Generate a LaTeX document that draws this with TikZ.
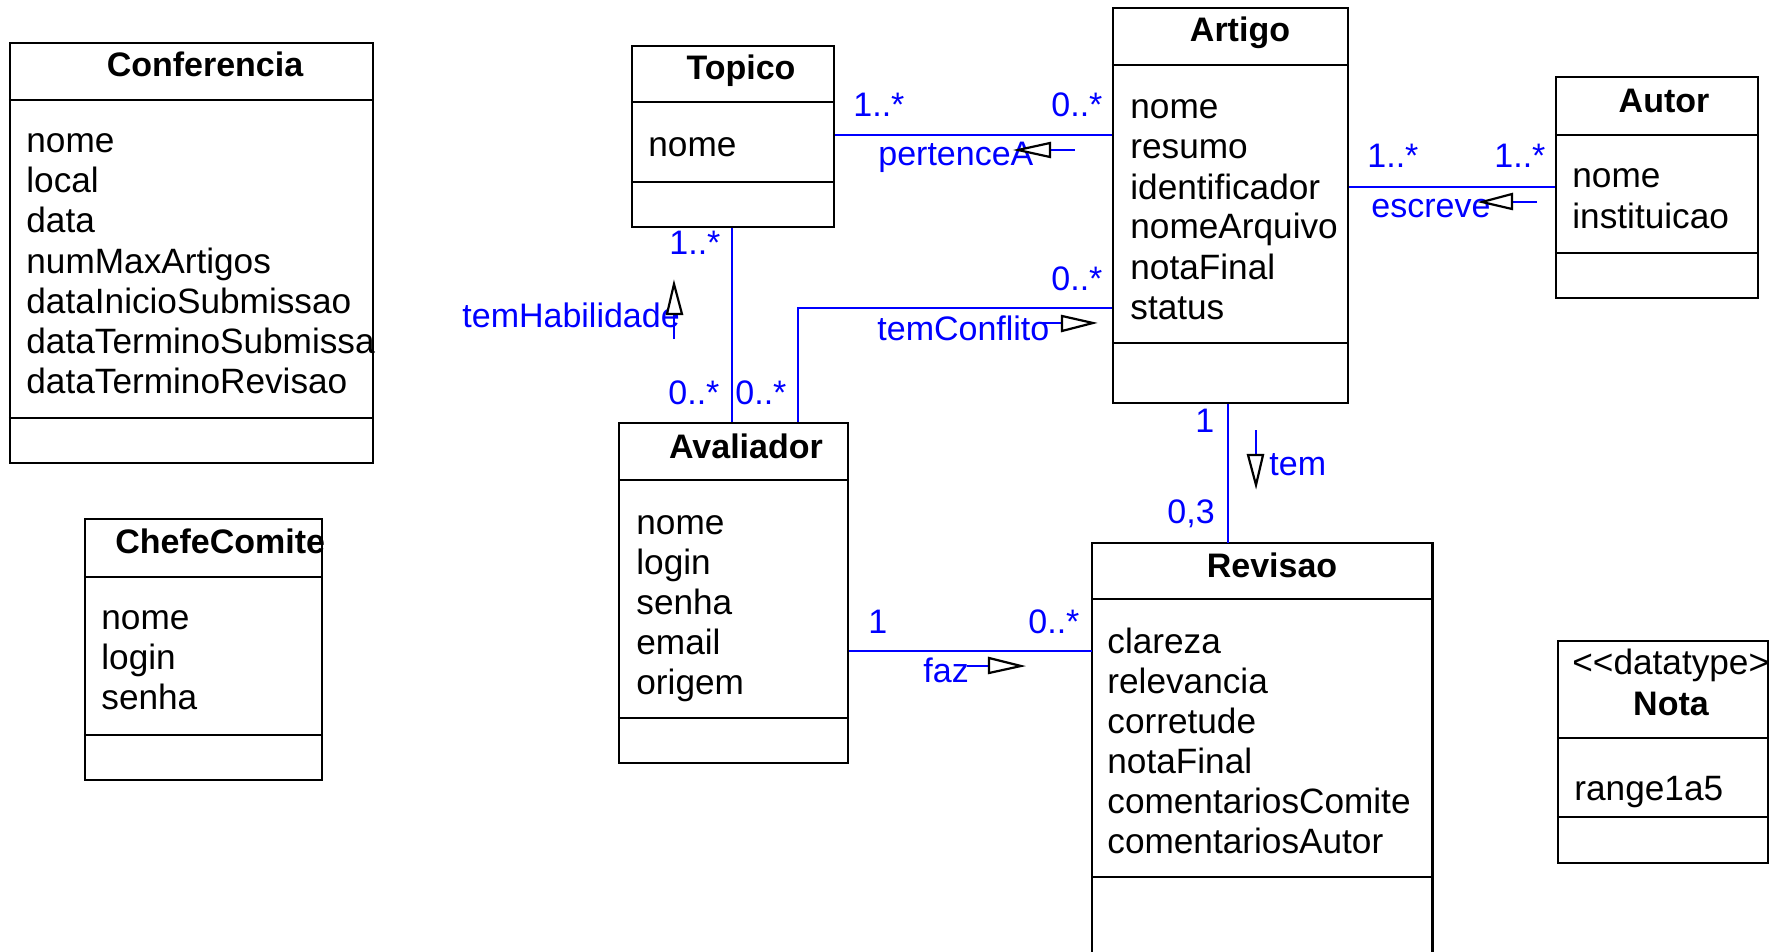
\documentclass[tikz,border=0pt]{standalone}
\usepackage{fontspec}
\setmainfont{Liberation Sans}
\usetikzlibrary{fit}
\definecolor{umlblue}{RGB}{0,0,255}
\tikzset{
  box/.style={draw=black, line width=1.1pt, inner sep=0pt},
  frame/.style={inner sep=0pt},
  divider/.style={draw=black, line width=1.1pt},
  attr/.style={anchor=base west, inner sep=0pt, font=\fontsize{17.6}{20}\selectfont},
  ttl/.style={anchor=base, inner sep=0pt, font=\bfseries\fontsize{17}{20}\selectfont},
  ttlw/.style={anchor=base west, inner sep=0pt, font=\bfseries\fontsize{17}{20}\selectfont},
  lbl/.style={anchor=base west, inner sep=0pt, text=umlblue, font=\fontsize{17}{20}\selectfont},
  stereo/.style={anchor=base west, inner sep=0pt, font=\fontsize{17.6}{20}\selectfont},
  assoc/.style={draw=umlblue, line width=1.1pt},
  stem/.style={draw=umlblue, line width=1.1pt},
  tri/.style={draw=black, fill=white, line width=1.1pt, line join=miter},
}
\begin{document}
\begin{tikzpicture}[x=0.5pt,y=-0.5pt]
\useasboundingbox (0,0) rectangle (1776,952);
\fill[white] (0,0) rectangle (1776,952);

% ---------- Conferencia
\node[box, fit={(10,43) (373,463)}] (conf) {};
\draw[divider] (conf.west |- 0,100) -- (conf.east |- 0,100);
\draw[divider] (conf.west |- 0,418) -- (conf.east |- 0,418);
\node[ttl] (conf-t) at (205,77) {Conferencia};
\begin{scope}
\clip (conf.south west) rectangle (conf.north east);
\foreach \t [count=\i] in {nome,local,data,numMaxArtigos,dataInicioSubmissao,dataTerminoSubmissao,dataTerminoRevisao}
  \node[attr] (conf-a\i) at (26,{113+40*\i}) {\t};
\end{scope}

% ---------- ChefeComite
\node[box, fit={(85,519) (322,780)}] (chefe) {};
\draw[divider] (chefe.west |- 0,577) -- (chefe.east |- 0,577);
\draw[divider] (chefe.west |- 0,735) -- (chefe.east |- 0,735);
\begin{scope}
\clip (chefe.south west) rectangle (chefe.north east);
\node[ttlw] (chefe-t) at (115,553) {ChefeComite};
\end{scope}
\foreach \t [count=\i] in {nome,login,senha}
  \node[attr] (chefe-a\i) at (101,{589+40*\i}) {\t};

% ---------- Topico
\node[box, fit={(632,46) (834,227)}] (topico) {};
\draw[divider] (topico.west |- 0,102) -- (topico.east |- 0,102);
\draw[divider] (topico.west |- 0,182) -- (topico.east |- 0,182);
\node[ttl] (topico-t) at (741,80) {Topico};
\node[attr] (topico-a1) at (648,157) {nome};

% ---------- Artigo
\node[box, fit={(1113,8) (1348,403)}] (artigo) {};
\draw[divider] (artigo.west |- 0,65) -- (artigo.east |- 0,65);
\draw[divider] (artigo.west |- 0,343) -- (artigo.east |- 0,343);
\node[ttl] (artigo-t) at (1240,42) {Artigo};
\foreach \t [count=\i] in {nome,resumo,identificador,nomeArquivo,notaFinal,status}
  \node[attr] (artigo-a\i) at (1130,{79+40*\i}) {\t};

% ---------- Autor
\node[box, fit={(1556,77) (1758,298)}] (autor) {};
\draw[divider] (autor.west |- 0,135) -- (autor.east |- 0,135);
\draw[divider] (autor.west |- 0,253) -- (autor.east |- 0,253);
\node[ttl] (autor-t) at (1664,113) {Autor};
\foreach \t [count=\i] in {nome,instituicao}
  \node[attr] (autor-a\i) at (1572,{148+40*\i}) {\t};

% ---------- Avaliador
\node[box, fit={(619,423) (848,763)}] (aval) {};
\draw[divider] (aval.west |- 0,480) -- (aval.east |- 0,480);
\draw[divider] (aval.west |- 0,718) -- (aval.east |- 0,718);
\node[ttl] (aval-t) at (746,458) {Avaliador};
\foreach \t [count=\i] in {nome,login,senha,email,origem}
  \node[attr] (aval-a\i) at (636,{494+40*\i}) {\t};

% ---------- Revisao
\node[frame, fit={(1092,543) (1432,952)}] (rev) {};
\draw[divider] (rev.south west) -- (rev.north west) -- (rev.north east) -- (rev.south east);
\draw[divider] (rev.west |- 0,599) -- (rev.east |- 0,599);
\draw[divider] (rev.west |- 0,877) -- (rev.east |- 0,877);
\node[ttl] (rev-t) at (1272,577) {Revisao};
\foreach \t [count=\i] in {clareza,relevancia,corretude,notaFinal,comentariosComite,comentariosAutor}
  \node[attr] (rev-a\i) at (1107,{613+40*\i}) {\t};

% ---------- Nota
\node[box, fit={(1558,641) (1768,863)}] (nota) {};
\draw[divider] (nota.west |- 0,738) -- (nota.east |- 0,738);
\draw[divider] (nota.west |- 0,817) -- (nota.east |- 0,817);
\begin{scope}
\clip (nota.south west) rectangle (nota.north east);
\node[stereo] (nota-s) at (1572,674) {\mbox{<}\mbox{<}datatype\mbox{>}\mbox{>}};
\end{scope}
\node[ttl] (nota-t) at (1671,715) {Nota};
\node[attr] (nota-a1) at (1574,800) {range1a5};

% ---------- associations
\draw[assoc] (topico.east |- 0,135) -- (artigo.west |- 0,135);
\draw[assoc] (artigo.east |- 0,187) -- (autor.west |- 0,187);
\draw[assoc] (topico.south -| 732,0) -- (aval.north -| 732,0);
\draw[assoc] (aval.north -| 798,0) -- (798,308) -- (artigo.west |- 0,308);
\draw[assoc] (artigo.south -| 1228,0) -- (rev.north -| 1228,0);
\draw[assoc] (aval.east |- 0,651) -- (rev.west |- 0,651);

% ---------- labels
\node[lbl] (m1) at (853,117) {1..*};
\node[lbl] (m2) at (1051,117) {0..*};
\node[lbl] (n1) at (878,166) {pertenceA};
\node[lbl] (m3) at (1367,168) {1..*};
\node[lbl] (m4) at (1494,168) {1..*};
\node[lbl] (n2) at (1371,218) {escreve};
\node[lbl] (m5) at (669,255) {1..*};
\node[lbl] (m6) at (668,404) {0..*};
\node[lbl] (n3) at (462,327) {temHabilidade};
\node[lbl] (m7) at (1051,290) {0..*};
\node[lbl] (m8) at (735,404) {0..*};
\node[lbl] (n4) at (877,340) {temConflito};
\node[lbl] (m9) at (1195,432) {1};
\node[lbl] (m10) at (1167,523) {0,3};
\node[lbl] (n5) at (1269,475) {tem};
\node[lbl] (m11) at (868,633) {1};
\node[lbl] (m12) at (1028,633) {0..*};
\node[lbl] (n6) at (923,682) {faz};

% ---------- direction arrows
\draw[stem] (1075,150) -- (1050,150);
\draw[tri] (1050,143) -- (1050,157) -- (1018,150) -- cycle;
\draw[stem] (1537,202) -- (1512,202);
\draw[tri] (1512,194) -- (1512,209) -- (1482,202) -- cycle;
\draw[stem] (1040,323) -- (1062,323);
\draw[tri] (1062,316) -- (1062,331) -- (1093,323) -- cycle;
\draw[stem] (967,666) -- (989,666);
\draw[tri] (989,658) -- (989,673) -- (1021,666) -- cycle;
\draw[stem] (674,339) -- (674,314);
\draw[tri] (667,314) -- (682,314) -- (674,284) -- cycle;
\draw[stem] (1256,430) -- (1256,455);
\draw[tri] (1248,455) -- (1263,455) -- (1256,485) -- cycle;
\end{tikzpicture}
\end{document}
